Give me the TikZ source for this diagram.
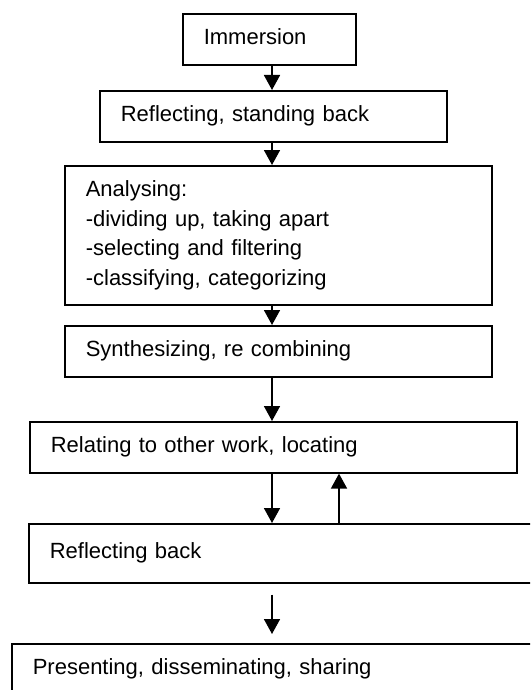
\documentclass[tikz,border=0pt]{standalone}
\usepackage{fontspec}
\setmainfont{Liberation Sans}
\usepackage{tikz}
\usetikzlibrary{arrows.meta}
\tikzset{
  box/.style={draw, line width=1.6pt, anchor=north west, align=left, inner xsep=21pt,
    inner ysep=0pt, font=\fontsize{22}{29.7}\selectfont},
  onerow/.style={box, text height=16pt, text depth=5pt},
  arr/.style={line width=1.7pt, -{Triangle[width=16pt,length=15pt]}}
}

\begin{document}
\begin{tikzpicture}[x=1pt, y=-1pt]
  \useasboundingbox (0,0) rectangle (530,690);
  \clip (0,0) rectangle (530,690);
  % nodes
	\node [onerow, text width=131pt, minimum height=51pt] (0) at (182, 13) {Immersion};
	\node [onerow, text width=305pt, minimum height=51pt] (1) at (99, 90) {Reflecting, standing back};
	\node [box, text width=385pt, minimum height=139pt] (2) at (64, 165) {Analysing:\\-dividing up, taking apart\\-selecting and filtering\\-classifying, categorizing};
	\node [onerow, text width=385pt, minimum height=51pt] (3) at (64, 325) {Synthesizing, re combining};
	\node [onerow, text width=445pt, minimum height=51pt] (4) at (29, 421) {Relating to other work, locating};
	\node [onerow, text width=490pt, minimum height=59pt] (5) at (28, 523) {Reflecting back};
	\node [onerow, text width=507pt, minimum height=51pt] (6) at (11, 643) {Presenting, disseminating, sharing};
	\coordinate (a) at (272, 0);
	\coordinate (b) at (339, 0);
	% edges
	\draw [arr] (0.south -| a) to (1.north -| a);
	\draw [arr] (1.south -| a) to (2.north -| a);
	\draw [arr] (2.south -| a) to (3.north -| a);
	\draw [arr] (3.south -| a) to (4.north -| a);
	\draw [arr] (4.south -| a) to (5.north -| a);
	\draw [arr] (5.north -| b) to (4.south -| b);
	\draw [arr, shorten <=11pt, shorten >=9pt] (5.south -| a) to (6.north -| a);
\end{tikzpicture}
\end{document}
